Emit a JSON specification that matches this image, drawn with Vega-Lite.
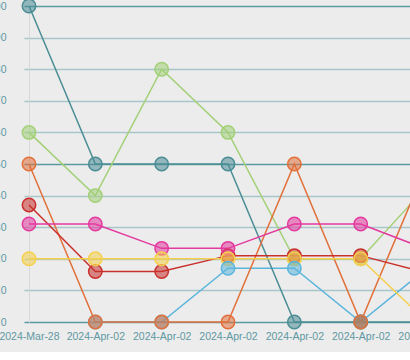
{
  "$schema": "https://vega.github.io/schema/vega-lite/v6.json",
  "width": 398,
  "height": 316,
  "autosize": {"type": "none"},
  "padding": {"left": 29, "top": 6, "right": 40, "bottom": 30},
  "background": "#ececec",
  "config": {"view": {"stroke": null}},
  "data": {
    "values": [
      {"slot": "2024-Apr-02 b", "series": "G", "value": 0},
      {"slot": "2024-Apr-02 c", "series": "G", "value": 0},
      {"slot": "2024-Apr-02 f", "series": "G", "value": 0},
      {"slot": "2024-Mar-28 a", "series": "A", "value": 100},
      {"slot": "2024-Apr-02 b", "series": "A", "value": 50},
      {"slot": "2024-Apr-02 c", "series": "A", "value": 50},
      {"slot": "2024-Apr-02 d", "series": "A", "value": 50},
      {"slot": "2024-Apr-02 e", "series": "A", "value": 0},
      {"slot": "2024-Apr-02 f", "series": "A", "value": 0},
      {"slot": "2024-Apr-02 g", "series": "A", "value": 0},
      {"slot": "2024-Mar-28 a", "series": "B", "value": 60},
      {"slot": "2024-Apr-02 b", "series": "B", "value": 40},
      {"slot": "2024-Apr-02 c", "series": "B", "value": 80},
      {"slot": "2024-Apr-02 d", "series": "B", "value": 60},
      {"slot": "2024-Apr-02 e", "series": "B", "value": 20},
      {"slot": "2024-Apr-02 f", "series": "B", "value": 20},
      {"slot": "2024-Apr-02 g", "series": "B", "value": 43},
      {"slot": "2024-Mar-28 a", "series": "C", "value": 50},
      {"slot": "2024-Apr-02 b", "series": "C", "value": 0},
      {"slot": "2024-Apr-02 c", "series": "C", "value": 0},
      {"slot": "2024-Apr-02 d", "series": "C", "value": 0},
      {"slot": "2024-Apr-02 e", "series": "C", "value": 50},
      {"slot": "2024-Apr-02 f", "series": "C", "value": 0},
      {"slot": "2024-Apr-02 g", "series": "C", "value": 50},
      {"slot": "2024-Mar-28 a", "series": "D", "value": 37},
      {"slot": "2024-Apr-02 b", "series": "D", "value": 16},
      {"slot": "2024-Apr-02 c", "series": "D", "value": 16},
      {"slot": "2024-Apr-02 d", "series": "D", "value": 21},
      {"slot": "2024-Apr-02 e", "series": "D", "value": 21},
      {"slot": "2024-Apr-02 f", "series": "D", "value": 21},
      {"slot": "2024-Apr-02 g", "series": "D", "value": 15.5},
      {"slot": "2024-Mar-28 a", "series": "E", "value": 31},
      {"slot": "2024-Apr-02 b", "series": "E", "value": 31},
      {"slot": "2024-Apr-02 c", "series": "E", "value": 23.3},
      {"slot": "2024-Apr-02 d", "series": "E", "value": 23.3},
      {"slot": "2024-Apr-02 e", "series": "E", "value": 31},
      {"slot": "2024-Apr-02 f", "series": "E", "value": 31},
      {"slot": "2024-Apr-02 g", "series": "E", "value": 23},
      {"slot": "2024-Mar-28 a", "series": "F", "value": 20},
      {"slot": "2024-Apr-02 b", "series": "F", "value": 20},
      {"slot": "2024-Apr-02 c", "series": "F", "value": 20},
      {"slot": "2024-Apr-02 d", "series": "F", "value": 20},
      {"slot": "2024-Apr-02 e", "series": "F", "value": 20},
      {"slot": "2024-Apr-02 f", "series": "F", "value": 20},
      {"slot": "2024-Apr-02 g", "series": "F", "value": 0},
      {"slot": "2024-Apr-02 d", "series": "G", "value": 17},
      {"slot": "2024-Apr-02 e", "series": "G", "value": 17},
      {"slot": "2024-Apr-02 g", "series": "G", "value": 17}
    ]
  },
  "encoding": {
    "x": {
      "field": "slot",
      "type": "ordinal",
      "sort": ["2024-Mar-28 a", "2024-Apr-02 b", "2024-Apr-02 c", "2024-Apr-02 d", "2024-Apr-02 e", "2024-Apr-02 f", "2024-Apr-02 g"],
      "scale": {"type": "point", "padding": 0},
      "axis": {
        "title": null,
        "labelExpr": "substring(datum.label, 0, 11)",
        "labelAngle": 0,
        "ticks": false,
        "grid": false,
        "domain": false,
        "labelColor": "#5e98a2",
        "labelFont": "Liberation Sans",
        "labelFontSize": 10.5,
        "labelPadding": 9
      }
    },
    "y": {
      "field": "value",
      "type": "quantitative",
      "scale": {"domain": [0, 100], "nice": false},
      "axis": {
        "title": null,
        "values": [0, 10, 20, 30, 40, 50, 60, 70, 80, 90, 100],
        "gridColor": {"condition": {"test": "datum.value % 50 === 0", "value": "#5b9ba0"}, "value": "#a7c6c9"},
        "tickColor": {"condition": {"test": "datum.value % 50 === 0", "value": "#5b9ba0"}, "value": "#a7c6c9"},
        "gridWidth": 1.5,
        "tickWidth": 1.5,
        "tickSize": 5,
        "labelPadding": 18,
        "domainColor": "#d8d8d8",
        "labelColor": "#5e98a2",
        "labelFont": "Liberation Sans",
        "labelFontSize": 10.5
      }
    }
  },
  "layer": [
    {
      "mark": {"type": "line", "strokeWidth": 1.5},
      "encoding": {
        "color": {
          "field": "series",
          "type": "nominal",
          "scale": {"domain": ["A", "B", "C", "D", "E", "F", "G"], "range": ["#4b8d95", "#a3d077", "#e2703a", "#c9302c", "#e4399e", "#f6cf4c", "#5bb5dc"]},
          "legend": null
        }
      }
    },
    {
      "mark": {"type": "circle", "size": 180, "fillOpacity": 0.55, "strokeWidth": 1.5, "opacity": 1},
      "encoding": {
        "fill": {
          "field": "series",
          "type": "nominal",
          "scale": {"domain": ["A", "B", "C", "D", "E", "F", "G"], "range": ["#4b8d95", "#a3d077", "#e2703a", "#c9302c", "#e4399e", "#f6cf4c", "#5bb5dc"]},
          "legend": null
        },
        "stroke": {
          "field": "series",
          "type": "nominal",
          "scale": {"domain": ["A", "B", "C", "D", "E", "F", "G"], "range": ["#4b8d95", "#a3d077", "#e2703a", "#c9302c", "#e4399e", "#f6cf4c", "#5bb5dc"]},
          "legend": null
        }
      }
    }
  ]
}
